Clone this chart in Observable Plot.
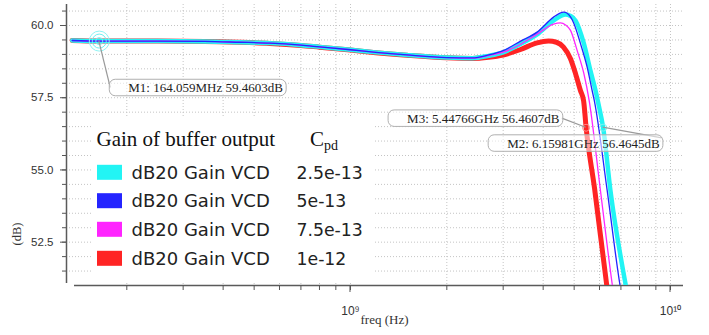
<!DOCTYPE html>
<html><head><meta charset="utf-8">
<script src="https://cdn.jsdelivr.net/npm/d3@7"></script>
<script src="https://cdn.jsdelivr.net/npm/@observablehq/plot@0.6"></script>
<style>
body{margin:0;background:#fff;}
#chart{position:relative;width:709px;height:335px;}
</style>
</head><body><div id="chart"></div>
<script>
// ---- series (Cpd values) ----
const seriesNames = ["2.5e-13", "5e-13", "7.5e-13", "1e-12"];
const seriesLabel = "dB20 Gain VCD";
const seriesColors = ["#22f4f4", "#2424ff", "#ff24ff", "#ff2424"];
const seriesWidths = [4.5, 1.3, 1.3, 5];

const freqCyan = [1.35e8, 1.64e8, 2.5e8, 3.5e8, 4.5e8, 5.6e8, 7e8, 8e8, 1e9, 1.2e9, 1.5e9, 2e9, 2.4e9, 2.7e9, 3.0e9, 3.4e9, 3.83e9, 4.31e9, 4.7e9, 4.87e9, 5.05e9, 5.36e9, 5.62e9, 5.83e9, 5.95e9, 6.16e9, 6.49e9, 7.23e9, 7.6e9];
const gainCyan = [59.48, 59.46, 59.46, 59.45, 59.42, 59.39, 59.32, 59.26, 59.16, 59.07, 58.98, 58.89, 58.87, 58.95, 59.07, 59.36, 59.69, 60.17, 60.38, 60.33, 60.17, 59.38, 58.44, 57.75, 57.30, 56.46, 54.29, 51.07, 49.8];

const freqBlue = [1.35e8, 1.64e8, 2.5e8, 3.5e8, 4.5e8, 5.6e8, 7e8, 8e8, 1e9, 1.2e9, 1.5e9, 2e9, 2.4e9, 2.7e9, 3.0e9, 3.4e9, 3.83e9, 4.31e9, 4.5e9, 4.64e9, 4.87e9, 4.99e9, 5.23e9, 5.49e9, 5.69e9, 5.78e9, 6.34e9, 6.94e9, 7.3e9];
const gainBlue = [59.48, 59.46, 59.46, 59.45, 59.42, 59.39, 59.32, 59.26, 59.16, 59.07, 58.98, 58.89, 58.88, 58.98, 59.13, 59.46, 59.77, 60.29, 60.42, 60.46, 60.30, 60.07, 59.38, 58.56, 57.75, 57.40, 54.29, 51.07, 49.7];

const freqMagenta = [1.35e8, 1.64e8, 2.5e8, 3.5e8, 4.5e8, 5.6e8, 7e8, 8e8, 1e9, 1.2e9, 1.5e9, 2e9, 2.4e9, 2.7e9, 3.0e9, 3.4e9, 3.83e9, 4.31e9, 4.53e9, 4.7e9, 4.87e9, 5.11e9, 5.36e9, 5.57e9, 6.04e9, 6.57e9, 6.9e9];
const gainMagenta = [59.48, 59.46, 59.46, 59.45, 59.42, 59.39, 59.32, 59.26, 59.16, 59.07, 58.98, 58.89, 58.87, 58.96, 59.08, 59.35, 59.70, 60.05, 60.09, 60.02, 59.83, 59.13, 58.34, 57.40, 54.29, 51.07, 49.5];

const freqRed = [1.35e8, 1.64e8, 2.5e8, 3.5e8, 4.5e8, 5.6e8, 7e8, 8e8, 1e9, 1.2e9, 1.5e9, 2e9, 2.4e9, 2.7e9, 3.0e9, 3.4e9, 3.83e9, 4.16e9, 4.4e9, 4.63e9, 4.87e9, 5.05e9, 5.23e9, 5.35e9, 5.45e9, 5.79e9, 6.31e9, 6.6e9];
const gainRed = [59.48, 59.46, 59.46, 59.45, 59.42, 59.38, 59.31, 59.25, 59.15, 59.06, 58.97, 58.88, 58.86, 58.90, 58.98, 59.17, 59.40, 59.46, 59.42, 59.25, 58.85, 58.33, 57.75, 57.40, 56.46, 54.36, 51.07, 49.5];

// ---- markers ----
const markerNames = ["M1", "M2", "M3"];
const markerFreq = [164.059e6, 6.15981e9, 5.44766e9];
const markerGain = [59.4603, 56.4645, 56.4607];
const markerText = ["M1: 164.059MHz 59.4603dB", "M2: 6.15981GHz 56.4645dB", "M3: 5.44766GHz 56.4607dB"];
const markerColors = ["#6ff0f0", "#7ff0f0", "#ff8a8a"];

// ---- axes ----
const xDomain = [1.296e8, 1.098e10];
const yDomain = [51.0, 60.727];
const xTickValues = [1e9, 1e10];
const xTickLabels = ["10\u2079", "10\u00b9\u2070"];
const yTickValues = [52.5, 55.0, 57.5, 60.0];
const yTickLabels = ["52.5", "55.0", "57.5", "60.0"];
const xLabel = "freq (Hz)";
const yLabel = "(dB)";
const legendTitle = "Gain of buffer output";
const legendCol = "C";
const legendColSub = "pd";

// ---- build tables ----
const freqs = [freqCyan, freqBlue, freqMagenta, freqRed];
const gains = [gainCyan, gainBlue, gainMagenta, gainRed];
const rows = seriesNames.map((s, k) => freqs[k].map((f, i) => ({series: s, f, g: gains[k][i]})));
const markers = markerNames.map((m, i) => ({name: m, f: markerFreq[i], g: markerGain[i], text: markerText[i], color: markerColors[i]}));
const xTicks = xTickValues.map((v, i) => ({v, label: xTickLabels[i]}));

const minorX = [];
for (const e of [8, 9]) for (let m = 1; m <= 9; m++) { const v = m * 10 ** e; if (v >= xDomain[0] && v <= xDomain[1]) minorX.push(v); }
minorX.push(1e10);
const minorY = d3.range(51.5, 60.6, 0.5).map(v => +v.toFixed(1));

const gridStyle = {stroke: "#c4c4c4", strokeOpacity: 1, strokeDasharray: "1,2", strokeWidth: 1};
const drawOrder = [3, 0, 2, 1];
const labelOffsets = [[29, 47], [-96, 16], [-179, -9]];

const chart = Plot.plot({
  width: 709, height: 335,
  marginLeft: 66, marginRight: 26, marginTop: 4, marginBottom: 50,
  style: {background: "white", fontFamily: "Liberation Sans", overflow: "visible"},
  x: {type: "log", domain: xDomain},
  y: {domain: yDomain},
  marks: [
    Plot.gridX(minorX, gridStyle),
    Plot.gridY(minorY, gridStyle),
    Plot.ruleX([xDomain[0]], {stroke: "#5a5a5a", strokeWidth: 1.5, insetBottom: 2}),
    Plot.ruleY([yDomain[0]], {stroke: "#5a5a5a", strokeWidth: 1.5, insetLeft: 8}),
    Plot.axisY(minorY, {tickSize: 4, tickFormat: () => "", stroke: "#555", label: null}),
    Plot.axisY(yTickValues, {tickSize: 6, tickPadding: 7, tickFormat: (d, i) => yTickLabels[i], fontSize: 11.5, fill: "#333", stroke: "#555", label: null}),
    Plot.axisX(minorX, {tickSize: 5, tickFormat: () => "", stroke: "#555", label: null}),
    Plot.text(xTicks, {x: "v", text: "label", frameAnchor: "bottom", dy: 26, lineAnchor: "middle", fontSize: 12, fill: "#333", fontFamily: "Liberation Sans"}),
    Plot.text([yLabel], {frameAnchor: "bottom-left", rotate: -90, dx: -46, dy: -40, fontFamily: "Liberation Serif", fontSize: 12.5, fill: "#333"}),
    Plot.text([xLabel], {frameAnchor: "bottom", dx: 9.5, dy: 38, fontFamily: "Liberation Serif", fontSize: 13, fill: "#333"}),
    ...drawOrder.map(k => Plot.line(rows[k], {x: "f", y: "g", stroke: seriesColors[k], strokeWidth: seriesWidths[k], curve: "monotone-x", clip: true})),
    Plot.dot(markers.slice(0, 1), {x: "f", y: "g", r: 10, stroke: "#8ff4f4", strokeWidth: 1}),
    Plot.dot(markers.slice(0, 1), {x: "f", y: "g", r: 7, stroke: "#6ef0f0", strokeWidth: 1}),
    Plot.dot(markers, {x: "f", y: "g", r: 3.5, stroke: "color", strokeWidth: 1}),
    ...markers.map((m, i) => Plot.text([m], {x: "f", y: "g", text: "text", dx: labelOffsets[i][0], dy: labelOffsets[i][1], textAnchor: "start", lineAnchor: "middle", fontFamily: "Liberation Serif", fontSize: 13, fill: "#222"}))
  ]
});

document.getElementById("chart").appendChild(chart);

const svg = d3.select(chart);
const root = chart;
const sbox = chart.getBoundingClientRect();
const xs = chart.scale("x"), ys = chart.scale("y");

// major x tick marks below the axis, placed through the x scale
const axisY0 = ys.apply(yDomain[0]);
const mt = svg.append("g");
xTickValues.forEach(d => {
  mt.append("line").attr("x1", xs.apply(d)).attr("x2", xs.apply(d))
    .attr("y1", axisY0).attr("y2", axisY0 + 7).attr("stroke", "#555");
});

// ---- marker label boxes and leaders ----
const allTexts = Array.from(chart.querySelectorAll("text"));
const deco = svg.append("g");
const labelGroups = [];
markers.forEach((m, i) => {
  const t = allTexts.find(el => el.textContent === m.text);
  if (!t) return;
  labelGroups.push(t.closest("g"));
  const b = t.getBoundingClientRect();
  const x = b.left - sbox.left, y = b.top - sbox.top;
  const r = {x: x - 19, y: y - 1, w: b.width + 22, h: b.height + 1.5};
  const mx = xs.apply(m.f), my = ys.apply(m.g);
  let lx, ly;
  if (i === 0) { lx = r.x + 1; ly = r.y + r.h / 2; }
  else if (i === 1) { lx = r.x + r.w - 1; ly = r.y + 3; }
  else { lx = r.x + r.w - 1; ly = r.y + r.h / 2; }
  deco.append("line").attr("x1", mx).attr("y1", my).attr("x2", lx).attr("y2", ly)
    .attr("stroke", "#9a9a9a").attr("stroke-width", 1.2);
  deco.append("rect").attr("x", r.x).attr("y", r.y).attr("width", r.w).attr("height", r.h)
    .attr("rx", 6).attr("fill", "white").attr("fill-opacity", 0.55)
    .attr("stroke", "#b0b0b0").attr("stroke-width", 1);
});
labelGroups.forEach(g => { if (g && g.parentNode === root) root.appendChild(g); });

// ---- legend ----
const lg = svg.append("g").attr("text-anchor", "start");
lg.append("rect").attr("x", 91).attr("y", 118).attr("width", 284).attr("height", 165).attr("fill", "white");
lg.append("text").attr("x", 96.5).attr("y", 146).attr("font-family", "Liberation Serif").attr("font-size", 21).attr("fill", "#111").text(legendTitle);
const ct = lg.append("text").attr("x", 310).attr("y", 146).attr("font-family", "Liberation Serif").attr("font-size", 21).attr("fill", "#111");
ct.append("tspan").text(legendCol);
ct.append("tspan").attr("dy", 3.5).attr("font-size", 14).text(legendColSub);
const rowCenters = [172.3, 200.7, 229.3, 258.3];
seriesNames.forEach((s, i) => {
  const cy = rowCenters[i];
  lg.append("rect").attr("x", 97).attr("y", cy - 7.5).attr("width", 25).attr("height", 15).attr("fill", seriesColors[i]);
  lg.append("text").attr("x", 131.5).attr("y", cy + 6.3).attr("font-family", "DejaVu Sans").attr("font-size", 18).attr("fill", "#222").text(seriesLabel);
  lg.append("text").attr("x", 296.5).attr("y", cy + 6.3).attr("font-family", "DejaVu Sans").attr("font-size", 17.3).attr("fill", "#222").text(s);
});
</script></body></html>
